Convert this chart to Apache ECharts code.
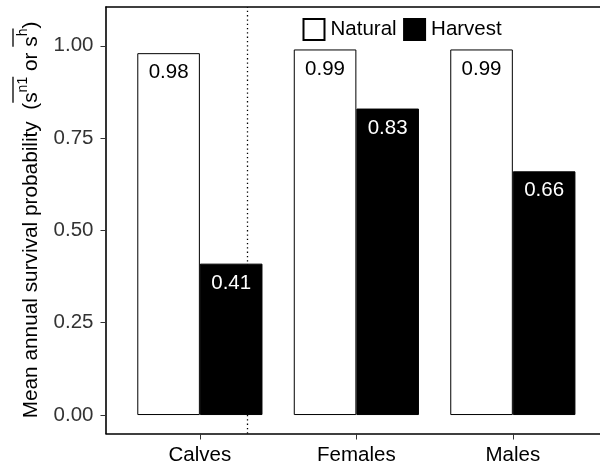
<!DOCTYPE html>
<html>
<head>
<meta charset="utf-8">
<script src="https://cdn.jsdelivr.net/npm/echarts@6/dist/echarts.min.js"></script>
<style>html,body{margin:0;padding:0;background:#fff}#c{width:600px;height:474px}</style>
</head>
<body>
<div id="c"></div>
<script>
var categories = ['Calves', 'Females', 'Males'];
var seriesNames = ['Natural', 'Harvest'];
var naturalValues = [0.98, 0.99, 0.99];
var harvestValues = [0.41, 0.83, 0.66];
var yTicks = [0, 0.25, 0.5, 0.75, 1.0];
var separatorAt = 1.5;

var FONT = '"Liberation Sans", Arial, Helvetica, sans-serif';
var FS = 20.5;
var TFS = 20.8;

var chart = echarts.init(document.getElementById('c'), null, {renderer: 'canvas'});

function pos(vals) { return vals.map(function (v, i) { return [i + 1, v]; }); }

// y-axis title built as rotated graphic (for overlines)
var ctx = document.createElement('canvas').getContext('2d');
function w(t, fs) { ctx.font = fs + 'px ' + FONT; return ctx.measureText(t).width; }
var supFs = 14;
var parts = [
  {t: 'Mean annual survival probability  (', fs: TFS, sup: false},
  {t: 's', fs: TFS, sup: false, olStart: true},
  {t: 'n1', fs: supFs, sup: true, olEnd: true},
  {t: ' or ', fs: TFS, sup: false},
  {t: 's', fs: TFS, sup: false, olStart: true},
  {t: 'h', fs: supFs, sup: true, olEnd: true},
  {t: ')', fs: TFS, sup: false}
];
var total = 0;
parts.forEach(function (p) { p.w = w(p.t, p.fs); total += p.w; });
var children = [];
var x = -total / 2, olx = 0;
parts.forEach(function (p) {
  children.push({
    type: 'text', x: x, y: p.sup ? -8 : 0,
    style: {text: p.t, font: p.fs + 'px ' + FONT, fill: '#000', textVerticalAlign: 'middle', textAlign: 'left'}
  });
  if (p.olStart) olx = x;
  if (p.olEnd) {
    children.push({type: 'line', shape: {x1: olx, y1: -18, x2: x + p.w, y2: -18}, style: {stroke: '#000', lineWidth: 1.3}});
  }
  x += p.w;
});

var X_MIN = 0.4, X_MAX = 3.557;

var option = {
  animation: false,
  backgroundColor: '#fff',
  textStyle: {fontFamily: FONT},
  grid: {left: 106, right: 0, top: 7, bottom: 40.5},
  legend: {
    left: 297.5, top: 13, itemWidth: 21, itemHeight: 21, itemGap: 6.5, icon: 'rect',
    textStyle: {fontSize: FS, color: '#000', padding: [0, 0, 0, 1]},
    data: seriesNames
  },
  xAxis: [{
    type: 'value', min: X_MIN, max: X_MAX,
    axisLine: {show: true, onZero: false, lineStyle: {color: '#000', width: 1.6}}, splitLine: {show: false},
    axisTick: {show: true, length: 6, lineStyle: {color: '#333', width: 1}, customValues: [1, 2, 3]},
    axisLabel: {customValues: [1, 2, 3], fontSize: FS, color: '#000', margin: 11,
      formatter: function (v) { return categories[Math.round(v) - 1]; }}
  }, {
    type: 'value', position: 'top', min: X_MIN, max: X_MAX,
    axisLine: {show: true, onZero: false, lineStyle: {color: '#000', width: 1.6}},
    axisTick: {show: false}, axisLabel: {show: false}, splitLine: {show: false}
  }],
  yAxis: {
    type: 'value', min: -0.05, max: 1.105,
    axisLine: {show: true, onZero: false, lineStyle: {color: '#000', width: 1.6}}, splitLine: {show: false},
    axisTick: {show: true, length: 5.5, lineStyle: {color: '#333', width: 1}, customValues: yTicks},
    axisLabel: {customValues: yTicks, fontSize: FS, color: '#333', margin: 12.5,
      formatter: function (v) { return v.toFixed(2); }}
  },
  series: [
    {
      name: seriesNames[0], type: 'bar', data: pos(naturalValues), barWidth: '40%', barGap: '0%',
      itemStyle: {color: '#fff', borderColor: '#000', borderWidth: 1},
      label: {show: true, position: 'insideTop', distance: 9, fontSize: FS, color: '#000',
        formatter: function (p) { return p.value[1].toFixed(2); }},
      markLine: {silent: true, symbol: 'none', label: {show: false},
        lineStyle: {type: [1.3, 3], color: '#000', width: 1.3},
        data: [{xAxis: separatorAt}]}
    },
    {
      name: seriesNames[1], type: 'bar', data: pos(harvestValues), barWidth: '40%', barGap: '0%',
      itemStyle: {color: '#000', borderColor: '#000', borderWidth: 1},
      label: {show: true, position: 'insideTop', distance: 9, fontSize: FS, color: '#fff',
        formatter: function (p) { return p.value[1].toFixed(2); }}
    }
  ],
  graphic: [{type: 'group', x: 31, y: 220, rotation: Math.PI / 2, children: children}]
};
chart.setOption(option);
</script>
</body>
</html>
